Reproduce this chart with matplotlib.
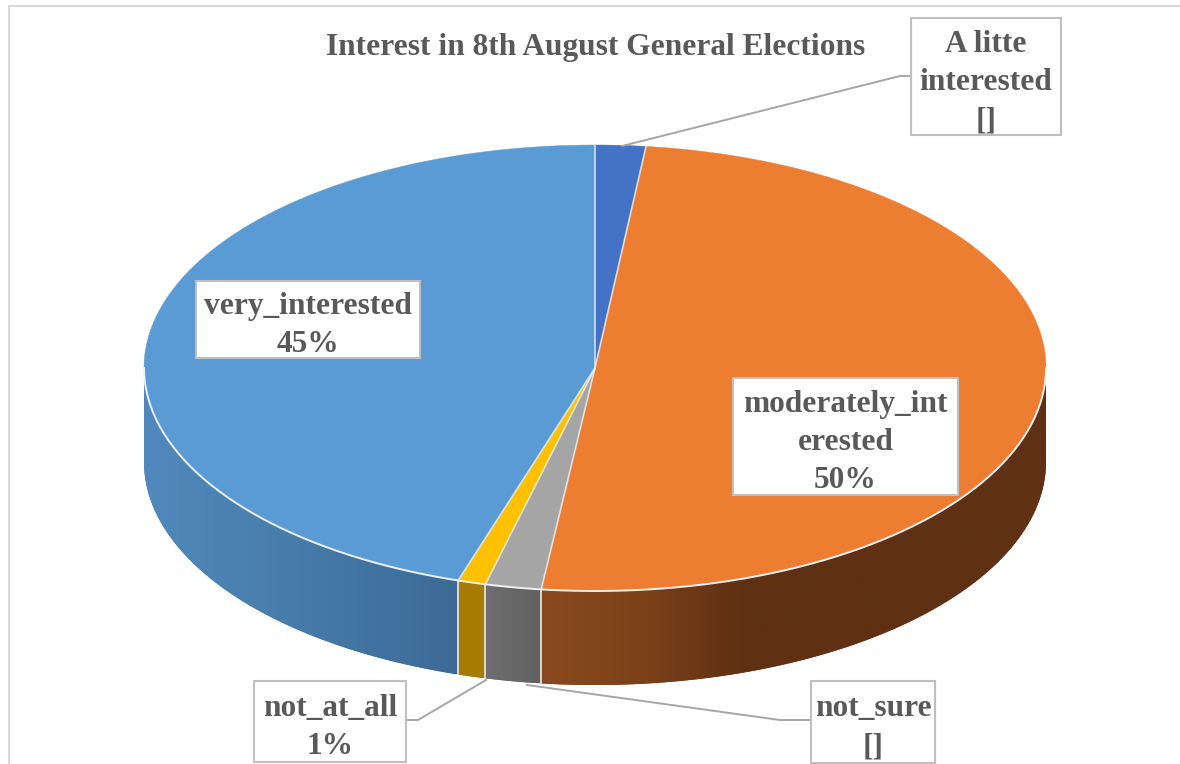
#!/usr/bin/env python3
"""Interest in the 8th August general elections, drawn as a tilted 3D pie."""
import numpy as np
import matplotlib
matplotlib.use('Agg')
import matplotlib.pyplot as plt
from matplotlib.colors import to_rgb
from matplotlib.patches import Polygon, Rectangle

TITLE = 'Interest in 8th August General Elections'
categories = ['A litte interested', 'moderately_interested', 'not_sure', 'not_at_all', 'very_interested']
values = [1.8, 50, 2, 1, 45]
label_texts = ['A litte\ninterested\n[]', 'moderately_int\nerested\n50%', 'not_sure\n[]',
               'not_at_all\n1%', 'very_interested\n45%']

top_colors = ['#4472C4', '#ED7D31', '#A5A5A5', '#FFC000', '#5B9BD5']
# side wall shading: (x stops, colours) for each slice
side_shades = [
    ([595, 645], ['#2f5597', '#2f5597']),
    ([540, 640, 745, 1046], ['#8a4a1f', '#7c4119', '#5f3013', '#5f3013']),
    ([485, 540], ['#6e6e6e', '#626262']),
    ([458, 485], ['#a67c00', '#a67c00']),
    ([144, 260, 458], ['#5089bd', '#4a7fae', '#3c6a95']),
]

# label boxes: x0, y0, x1, y1 in pixels
label_boxes = [(911, 18, 1061, 135), (733, 378, 958, 495), (811, 681, 935, 763),
               (254, 681, 406, 762), (196, 281, 420, 358)]
leaders = [[(622, 146), (900, 76), (911, 76)],
           [(527, 685), (780, 720), (811, 720)],
           [(486, 680), (418, 720), (406, 720)]]

CX, CY, RX, RY, DEPTH = 595, 368, 451, 223, 94
TEXT_COLOR = '#595959'
EDGE_COLOR = '#BFBFBF'
SEAM_COLOR = '#EDF1F6'


def ellipse_points(a0, a1, n=200, drop=0):
    """Rim points between two clockwise angles measured from 12 o'clock."""
    t = np.radians(np.linspace(a0, a1, n))
    return np.column_stack([CX + RX * np.sin(t), CY - RY * np.cos(t) + drop])


def draw_side(ax, a0, a1, stops, colors):
    """Side wall of one slice: a horizontal gradient clipped to the wall outline."""
    a0, a1 = max(a0, 90), min(a1, 270)
    if a1 <= a0:
        return
    upper = ellipse_points(a0, a1)
    lower = ellipse_points(a0, a1, drop=DEPTH)[::-1]
    outline = np.vstack([upper, lower])
    rgb = np.array([to_rgb(c) for c in colors])

    x0, x1 = outline[:, 0].min(), outline[:, 0].max()
    y0, y1 = outline[:, 1].min(), outline[:, 1].max()
    xs = np.linspace(x0, x1, 300)
    grad = np.dstack([np.interp(xs, stops, rgb[:, i]) for i in range(3)])

    # the flat polygon underneath keeps the outer edge antialiased
    base = Polygon(outline, closed=True, facecolor=rgb.mean(axis=0), edgecolor='none', zorder=2)
    ax.add_patch(base)
    img = ax.imshow(grad, extent=(x0, x1, y1, y0), aspect='auto', interpolation='bilinear', zorder=2.5)
    img.set_clip_path(Polygon(outline, closed=True, transform=ax.transData))


fig = plt.figure(figsize=(11.8, 7.64), dpi=100)
ax = fig.add_axes([0, 0, 1, 1])

plt.rcParams['font.family'] = ['Liberation Serif', 'DejaVu Serif']

edges = np.concatenate([[0], np.cumsum(values)]) / sum(values) * 360

for i in range(len(values)):
    draw_side(ax, edges[i], edges[i + 1], *side_shades[i])

ax.set_xlim(0, 1180)
ax.set_ylim(764, 0)
ax.axis('off')

# chart frame, cut off on the right and at the bottom
ax.plot([8.5, 8.5, 1180], [764, 6, 6], color='#D9D9D9', linewidth=1.5, zorder=1)

# pale seams between the side walls
for a in edges[1:-1]:
    if 90 < a < 270:
        p = ellipse_points(a, a, 1)[0]
        ax.plot([p[0], p[0]], [p[1], p[1] + DEPTH], color='#E4E0DA', linewidth=1.3, zorder=3)

# top face, with radial seams and a light rim along the front only
for i, col in enumerate(top_colors):
    pts = np.vstack([[CX, CY], ellipse_points(edges[i], edges[i + 1])])
    ax.add_patch(Polygon(pts, closed=True, facecolor=col, edgecolor=col, linewidth=0.3, zorder=4))

for a in edges[:-1]:
    p = ellipse_points(a, a, 1)[0]
    ax.plot([CX, p[0]], [CY, p[1]], color=SEAM_COLOR, linewidth=1.2, alpha=0.8, zorder=4.5)

rim = ellipse_points(90, 270)
ax.plot(rim[:, 0], rim[:, 1], color=SEAM_COLOR, linewidth=1.4, zorder=4.5)

for pts in leaders:
    xs, ys = zip(*pts)
    ax.plot(xs, ys, color='#A6A6A6', linewidth=1.4, zorder=5)

for (x0, y0, x1, y1), text in zip(label_boxes, label_texts):
    ax.add_patch(Rectangle((x0, y0), x1 - x0, y1 - y0, facecolor='white', edgecolor=EDGE_COLOR,
                           linewidth=1.5, zorder=6))
    ax.text((x0 + x1) / 2, (y0 + y1) / 2 + 6, text, ha='center', va='center', color=TEXT_COLOR,
            fontsize=22.6, fontweight='bold', linespacing=1.42, zorder=7)

ax.text(596, 48, TITLE, ha='center', va='center', color=TEXT_COLOR, fontsize=22.6, fontweight='bold', zorder=7)

fig.savefig('out.png', dpi=100)
plt.close(fig)
